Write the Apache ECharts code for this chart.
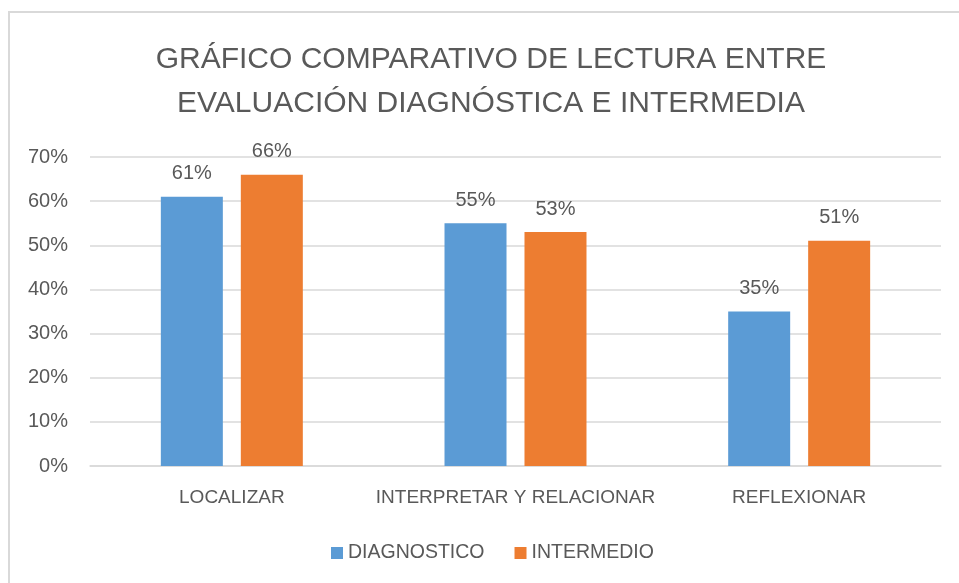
<!DOCTYPE html>
<html>
<head>
<meta charset="utf-8">
<script src="https://cdn.jsdelivr.net/npm/echarts@6/dist/echarts.min.js"></script>
<style>
  html, body { margin: 0; padding: 0; background: #fff; }
  #chart { width: 959px; height: 583px; }
</style>
</head>
<body>
<div id="chart"></div>
<script>
const categories = ['LOCALIZAR', 'INTERPRETAR Y RELACIONAR', 'REFLEXIONAR']
const diagnostico = [61, 55, 35]
const intermedio = [66, 53, 51]
const titleLines = ['GRÁFICO COMPARATIVO DE LECTURA ENTRE', 'EVALUACIÓN DIAGNÓSTICA E INTERMEDIA']

const FONT = '"Liberation Sans", Arial, sans-serif'
const ink = '#595959'
const rule = '#d9d9d9'

const chart = echarts.init(document.getElementById('chart'), null, { renderer: 'canvas' })

function barLabel() {
  return {
    show: true,
    position: 'top',
    distance: 13,
    formatter: '{c}%',
    color: ink,
    fontSize: 20,
    fontFamily: FONT
  }
}

chart.setOption({
  animation: false,
  backgroundColor: '#fff',
  textStyle: { fontFamily: FONT },
  graphic: [
    {
      type: 'rect',
      silent: true,
      shape: { x: 9, y: 12, width: 1000, height: 1000 },
      style: { fill: 'none', stroke: rule, lineWidth: 2 }
    }
  ],
  title: {
    text: titleLines.join('\n'),
    left: 486,
    top: 33,
    textAlign: 'center',
    textStyle: {
      color: ink,
      fontSize: 30,
      fontWeight: 'normal',
      fontFamily: FONT,
      lineHeight: 44
    }
  },
  legend: {
    data: ['DIAGNOSTICO', 'INTERMEDIO'],
    left: 326,
    top: 538,
    icon: 'rect',
    itemWidth: 12,
    itemHeight: 12,
    itemGap: 30,
    textStyle: { color: ink, fontSize: 19.5, fontFamily: FONT }
  },
  grid: { left: 90, right: 18, top: 157, bottom: 117, containLabel: false },
  xAxis: {
    type: 'category',
    data: categories,
    axisTick: { show: false },
    axisLine: { lineStyle: { color: rule, width: 1.5 } },
    axisLabel: { color: ink, fontSize: 19, margin: 22, interval: 0, fontFamily: FONT }
  },
  yAxis: {
    type: 'value',
    min: 0,
    max: 70,
    interval: 10,
    axisLine: { show: false },
    axisTick: { show: false },
    axisLabel: { formatter: '{value}%', color: ink, fontSize: 20, margin: 22, fontFamily: FONT },
    splitLine: { lineStyle: { color: rule, width: 1.5 } }
  },
  series: [
    {
      name: 'DIAGNOSTICO',
      type: 'bar',
      data: diagnostico,
      barWidth: 62,
      barGap: '29%',
      itemStyle: { color: '#5b9bd5' },
      label: barLabel()
    },
    {
      name: 'INTERMEDIO',
      type: 'bar',
      data: intermedio,
      barWidth: 62,
      barGap: '29%',
      itemStyle: { color: '#ed7d31' },
      label: barLabel()
    }
  ]
})
</script>
</body>
</html>
